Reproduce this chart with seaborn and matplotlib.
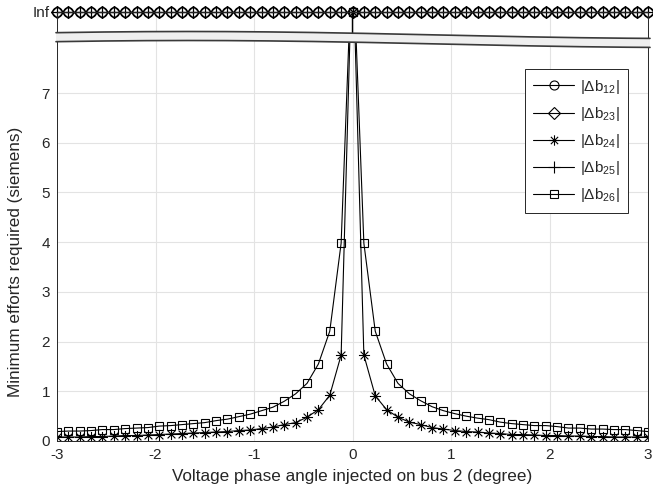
import numpy as np
import pandas as pd
import seaborn as sns
import matplotlib.pyplot as plt
from matplotlib.path import Path
from matplotlib.lines import Line2D
from matplotlib.patches import Polygon

# ---- data ----
angle = np.linspace(-3, 3, 53)  # degree

b24 = [0.08, 0.08, 0.08, 0.09, 0.09, 0.10, 0.11, 0.11, 0.12, 0.13, 0.14, 0.15, 0.16,
       0.17, 0.18, 0.19, 0.21, 0.22, 0.25, 0.28, 0.33, 0.37, 0.48, 0.63, 0.92, 1.73,
       np.inf,
       1.73, 0.91, 0.63, 0.48, 0.38, 0.33, 0.27, 0.24, 0.21, 0.19, 0.18, 0.16, 0.15,
       0.13, 0.13, 0.12, 0.11, 0.11, 0.10, 0.10, 0.09, 0.09, 0.08, 0.08, 0.08, 0.08]
b26 = [0.19, 0.20, 0.20, 0.21, 0.23, 0.23, 0.25, 0.26, 0.27, 0.30, 0.31, 0.33, 0.35,
       0.37, 0.41, 0.44, 0.49, 0.54, 0.61, 0.68, 0.80, 0.95, 1.16, 1.55, 2.21, 3.98,
       np.inf,
       3.98, 2.21, 1.55, 1.16, 0.95, 0.81, 0.69, 0.61, 0.55, 0.50, 0.46, 0.43, 0.38,
       0.35, 0.33, 0.31, 0.31, 0.29, 0.26, 0.26, 0.24, 0.24, 0.23, 0.23, 0.21, 0.19]
b12 = [np.inf] * 53
b23 = [np.inf] * 53
b25 = [np.inf] * 53

series_names = ['12', '23', '24', '25', '26']
series_vals = [b12, b23, b24, b25, b26]
labels = [r'|$\Delta$b$_{%s}$|' % s for s in series_names]

# MATLAB-like asterisk (+ and x)
star = Path([(0, -1), (0, 1), (-1, 0), (1, 0), (-.7, -.7), (.7, .7), (-.7, .7), (.7, -.7)],
            [Path.MOVETO, Path.LINETO] * 4)
markers = {'12': 'o', '23': 'D', '24': star, '25': '+', '26': 's'}
msizes = {'12': 7, '23': 6.5, '24': 8, '25': 9, '26': 6}

sns.set_style('whitegrid', {'grid.color': '#e3e3e3', 'axes.edgecolor': '#262626',
                            'xtick.color': '#262626', 'ytick.color': '#262626',
                            'text.color': '#262626', 'axes.labelcolor': '#262626'})
plt.rcParams['font.family'] = ['Liberation Sans', 'DejaVu Sans']
plt.rcParams['mathtext.fontset'] = 'custom'
plt.rcParams['mathtext.rm'] = 'Liberation Sans'
plt.rcParams['mathtext.it'] = 'Liberation Sans'
plt.rcParams['mathtext.default'] = 'regular'
plt.rcParams['axes.unicode_minus'] = False

W, H = 653, 497
fig = plt.figure(figsize=(W / 100, H / 100), dpi=100)
ax = fig.add_axes([57 / W, 1 - 441 / H, 591 / W, 402.6 / H])
ax_top = fig.add_axes([57 / W, 1 - 40 / H, 591 / W, 28 / H])

# lower panel: finite part, Inf points pushed above the break
CUT = 10
for name, vals in zip(series_names, series_vals):
    v = np.asarray(vals, dtype=float)
    if not np.isfinite(v).any():
        continue
    df = pd.DataFrame({'angle': angle, 'effort': np.where(np.isinf(v), CUT, v)})
    sns.lineplot(data=df, x='angle', y='effort', color='black', lw=0.8,
                 marker=markers[name], ms=msizes[name], mfc='none', mec='black',
                 mew=0.8, estimator=None, sort=False, ax=ax)

ax.set_xlim(-3, 3)
ax.set_ylim(0, 8.1)
ax.set_yticks(range(8))
ax.set_xticks(range(-3, 4))
ax.set_xlabel('Voltage phase angle injected on bus 2 (degree)', fontsize=12.3, labelpad=5)
ax.set_ylabel('Minimum efforts required (siemens)', fontsize=12.3)
ax.yaxis.set_label_coords(-0.058, 0.445)
ax.tick_params(direction='in', length=3.5, width=0.6, labelsize=11, pad=5)
ax.spines['top'].set_visible(False)
for s in ['left', 'bottom', 'right']:
    ax.spines[s].set_linewidth(0.7)
ax.grid(True, lw=0.8)

# upper panel: the Inf row
for name, vals in zip(series_names, series_vals):
    v = np.asarray(vals, dtype=float)
    inf = np.isinf(v)
    ax_top.plot(angle, np.where(inf, 1.0, -1e3), color='black', lw=0.8,
                clip_on=bool(np.isfinite(v).any()))
    ax_top.plot(angle[inf], np.ones(inf.sum()), ls='none', marker=markers[name],
                ms=msizes[name], mfc='none', mec='black', mew=0.9, clip_on=False)
ax_top.set_xlim(-3, 3)
ax_top.set_ylim(0, 1)
ax_top.set_xticks(range(-3, 4))
ax_top.set_xticklabels([])
ax_top.set_yticks([1])
ax_top.set_yticklabels(['Inf'])
ax_top.tick_params(direction='in', length=0, labelsize=11, pad=5)
ax_top.spines['bottom'].set_visible(False)
for s in ['left', 'top', 'right']:
    ax_top.spines[s].set_linewidth(0.7)
ax_top.grid(True, lw=0.8)

# wavy break band
xs = np.linspace(56, 650, 200)
c = 39.5 - 3.5 * np.cos(2 * np.pi * (xs - 190) / 1000)
up, lo = c - 4.5, c + 4.5
poly = np.vstack([np.column_stack([xs, up]), np.column_stack([xs[::-1], lo[::-1]])])
fig.add_artist(Polygon(np.column_stack([poly[:, 0] / W, 1 - poly[:, 1] / H]),
                       closed=True, fc='#efefef', ec='none', transform=fig.transFigure,
                       zorder=5))
for yy in (up, lo):
    fig.add_artist(Line2D(xs / W, 1 - yy / H, color='#3a3a3a', lw=1.2,
                          transform=fig.transFigure, zorder=6))

# legend
handles = [Line2D([], [], color='black', lw=0.8, marker=markers[n], ms=msizes[n] - 0.5,
                  mfc='none', mec='black', mew=0.8) for n in series_names]
leg = ax.legend(handles, labels, loc='upper right', bbox_to_anchor=(0.966, 0.923),
                borderaxespad=0, fontsize=11, handlelength=2.7, labelspacing=0.6,
                fancybox=False, framealpha=1, edgecolor='#262626', borderpad=0.55,
                handletextpad=0.35)
leg.get_frame().set_linewidth(0.7)

fig.savefig('out.png', dpi=100)
